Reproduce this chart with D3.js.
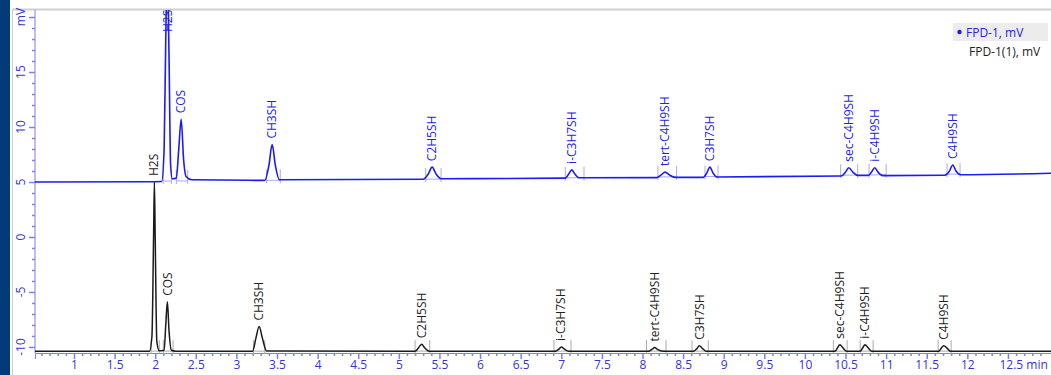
<!DOCTYPE html>
<html><head><meta charset="utf-8">
<script src="https://cdn.jsdelivr.net/npm/d3@7"></script>
<style>
html,body{margin:0;padding:0;background:#fff;}
svg{display:block;font-family:"Open Sans","Noto Sans",sans-serif;}
</style></head>
<body><svg id="c" width="1051" height="375"></svg>
<script>
// ---- data (time in min, signal in mV) ----
const blueT = [0.52,1.90,2.08,2.11,2.13,2.15,2.17,2.19,2.21,2.26,2.29,2.32,2.35,2.38,2.45,3.35,3.40,3.44,3.48,3.53,5.30,5.36,5.41,5.46,5.52,7.05,7.09,7.13,7.17,7.22,8.18,8.23,8.28,8.33,8.40,8.75,8.79,8.83,8.87,8.92,10.45,10.50,10.54,10.59,10.65,10.78,10.82,10.86,10.90,10.96,11.72,11.78,11.82,11.86,11.92,13.03];
const blueV = [5.0,5.02,5.05,8.0,18.0,25.0,16.5,6.5,5.3,5.35,8.0,10.7,7.0,5.5,5.2,5.15,6.5,8.4,6.5,5.2,5.25,5.7,6.35,5.7,5.3,5.35,5.7,6.1,5.7,5.38,5.4,5.65,5.9,5.65,5.42,5.42,5.8,6.35,5.8,5.45,5.55,5.9,6.3,5.9,5.6,5.6,5.9,6.3,5.9,5.58,5.62,6.0,6.55,6.0,5.66,5.8];
const blackT = [0.52,1.93,1.96,1.98,1.99,2.00,2.02,2.05,2.11,2.13,2.15,2.17,2.20,2.25,3.20,3.24,3.28,3.32,3.37,5.20,5.24,5.28,5.32,5.37,6.93,6.97,7.00,7.04,7.09,8.08,8.12,8.15,8.19,8.25,8.63,8.67,8.70,8.74,8.78,10.37,10.40,10.43,10.47,10.51,10.68,10.71,10.74,10.78,10.82,11.65,11.68,11.71,11.75,11.79,13.03];
const blackV = [-10.38,-10.38,-9.0,0.0,5.0,0.0,-9.5,-10.35,-10.3,-8.0,-5.9,-8.5,-10.3,-10.38,-10.38,-9.2,-8.15,-9.2,-10.36,-10.38,-10.1,-9.75,-10.1,-10.38,-10.38,-10.2,-10.0,-10.2,-10.38,-10.38,-10.2,-10.05,-10.25,-10.38,-10.38,-10.15,-9.9,-10.15,-10.38,-10.38,-10.1,-9.8,-10.1,-10.38,-10.38,-10.1,-9.8,-10.1,-10.38,-10.38,-10.1,-9.9,-10.1,-10.38,-10.38];

const compounds = ["H2S","COS","CH3SH","C2H5SH","i-C3H7SH","tert-C4H9SH","C3H7SH","sec-C4H9SH","i-C4H9SH","C4H9SH"];
const blueRT    = [2.15,2.32,3.44,5.41,7.13,8.28,8.83,10.54,10.86,11.82];
const blueTop   = [25.0,10.7,8.4,6.35,6.1,5.9,6.35,6.3,6.3,6.55];
const blueStart = [2.10,2.26,3.37,5.33,7.05,8.19,8.77,10.44,10.79,11.75];
const blueEnd   = [2.20,2.40,3.54,5.52,7.28,8.42,8.93,10.65,11.00,11.91];
const blackRT   = [1.98,2.15,3.28,5.28,7.00,8.15,8.70,10.43,10.74,11.71];
const blackTop  = [5.0,-5.9,-8.15,-9.75,-10.0,-10.05,-9.9,-9.8,-9.8,-9.9];
const blackStart= [1.95,2.10,3.21,5.20,6.91,8.05,8.61,10.35,10.68,11.64];
const blackEnd  = [2.05,2.22,3.35,5.38,7.12,8.29,8.81,10.52,10.84,11.80];

const yMajor = [-10,-5,0,5,10,15,20];
const yLabels = ["-10","-5","0","5","10","15","mV"];
const xMajor = [1,1.5,2,2.5,3,3.5,4,4.5,5,5.5,6,6.5,7,7.5,8,8.5,9,9.5,10,10.5,11,11.5,12,12.5];
const xLabels = ["1","1.5","2","2.5","3","3.5","4","4.5","5","5.5","6","6.5","7","7.5","8","8.5","9","9.5","10","10.5","11","11.5","12","12.5 min"];
const legendNames = ["FPD-1, mV","FPD-1(1), mV"];

// ---- layout ----
const svg = d3.select("#c");
const L = 35, R = 1051, T = 10, B = 353;
const x = d3.scaleLinear().domain([0.52,13.03]).range([L,R]);
const y = d3.scaleLinear().domain([-10.55,20.64]).range([B,T]);
const BLUE = "#1c1cf2", BLACK = "#1a1a1a", AX = "#7f7fee", AXT = "#3434d6";

svg.append("rect").attr("x",0).attr("y",0).attr("width",10).attr("height",375).attr("fill","#033b78");
svg.append("line").attr("x1",12.5).attr("x2",12.5).attr("y1",10).attr("y2",375).attr("stroke","#cfcfcf");
svg.append("line").attr("x1",12).attr("x2",1051).attr("y1",9.5).attr("y2",9.5).attr("stroke","#cfcfcf").attr("stroke-width",2);

svg.append("clipPath").attr("id","clip").append("rect").attr("x",L).attr("y",T).attr("width",R-L).attr("height",B-T+2);

// axes
const yAxis = d3.axisLeft(y).tickValues(yMajor).tickSize(6).tickFormat("");
const gy = svg.append("g").attr("transform",`translate(${L},0)`).call(yAxis);
const yMinor = d3.range(-10,21).filter(v=>v%5!==0);
gy.append("g").call(d3.axisLeft(y).tickValues(yMinor).tickSize(3).tickFormat(""));
gy.selectAll(".domain").attr("stroke",AX).filter((d,i)=>i>0).remove();
gy.select(".domain").attr("d",`M0,${T}V${B}`);
gy.selectAll(".tick line").attr("stroke",AX).attr("stroke-width",1.5);
svg.append("g").selectAll("text").data(yMajor).join("text")
  .attr("transform",(d)=>`translate(21,${y(d)}) rotate(-90)`)
  .attr("text-anchor","middle").attr("dy","0.35em")
  .attr("fill",AXT).attr("font-size",12).text((d,i)=>yLabels[i]);

const gx = svg.append("g").attr("transform",`translate(0,${B})`)
  .call(d3.axisBottom(x).tickValues(xMajor).tickSize(6).tickFormat((d,i)=>xLabels[i]));
const xMinor = d3.range(6,131).map(v=>v/10).filter(v=>Math.abs(v*2-Math.round(v*2))>1e-6);
gx.append("g").call(d3.axisBottom(x).tickValues(xMinor).tickSize(3).tickFormat(""));
gx.selectAll(".domain").attr("stroke",AX);
gx.selectAll(".tick line").attr("stroke",AX).attr("stroke-width",1.5);
gx.selectAll(".tick text").attr("fill",AXT).attr("font-size",12).attr("font-family","Open Sans").attr("dy","0.6em");
gx.selectAll(".tick").filter(d=>d===12.5).select("text").attr("text-anchor","start").attr("dx","-9");

const plot = svg.append("g").attr("clip-path","url(#clip)");

function markers(starts, ends, color, baseT, baseV){
  const base = t => d3.scaleLinear().domain(baseT).range(baseV)(t);
  const g = plot.append("g");
  starts.forEach((s,i)=>{
    const e = ends[i];
    [s,e].forEach(t=>{
      g.append("line").attr("x1",x(t)).attr("x2",x(t))
       .attr("y1",y(base(t))+3).attr("y2",y(base(t))-11)
       .attr("stroke",color).attr("stroke-width",1);
    });
    g.append("line").attr("x1",x(s)).attr("x2",x(e))
      .attr("y1",y(base(s))).attr("y2",y(base(e)))
      .attr("stroke",color).attr("stroke-width",1);
  });
}
markers(blueStart, blueEnd, "#a9a9f5", [0.52,5.3,13.03],[5.0,5.25,5.8]);
markers(blackStart, blackEnd, "#aaaaaa", [0.52,13.03],[-10.38,-10.38]);

const line = d3.line().x(d=>x(d[0])).y(d=>y(d[1])).curve(d3.curveMonotoneX);
plot.append("path").datum(blackT.map((t,i)=>[t,blackV[i]])).attr("d",line)
  .attr("fill","none").attr("stroke",BLACK).attr("stroke-width",1.5);
plot.append("path").datum(blueT.map((t,i)=>[t,blueV[i]])).attr("d",line)
  .attr("fill","none").attr("stroke",BLUE).attr("stroke-width",1.6);

// peak labels
function labels(rt, top, color){
  svg.append("g").selectAll("text").data(compounds).join("text")
    .attr("transform",(d,i)=>`translate(${x(rt[i])},${Math.max(y(top[i])-6, T+22)}) rotate(-90)`)
    .attr("dy","0.35em").attr("fill",color).attr("font-size",12)
    .text(d=>d);
}
labels(blueRT, blueTop, "#2323e6");
labels(blackRT, blackTop, "#222");

// legend
const lg = svg.append("g");
lg.append("rect").attr("x",953).attr("y",23).attr("width",95).attr("height",18).attr("fill","#ececec");
lg.append("circle").attr("cx",959.5).attr("cy",32).attr("r",2.2).attr("fill",BLUE);
lg.selectAll("text").data(legendNames).join("text")
  .attr("x",(d,i)=>i?969:966).attr("y",(d,i)=>36.5+i*19.5)
  .attr("font-size",12).attr("fill",(d,i)=>i?"#222":"#2323e6").text(d=>d);
</script></body></html>
